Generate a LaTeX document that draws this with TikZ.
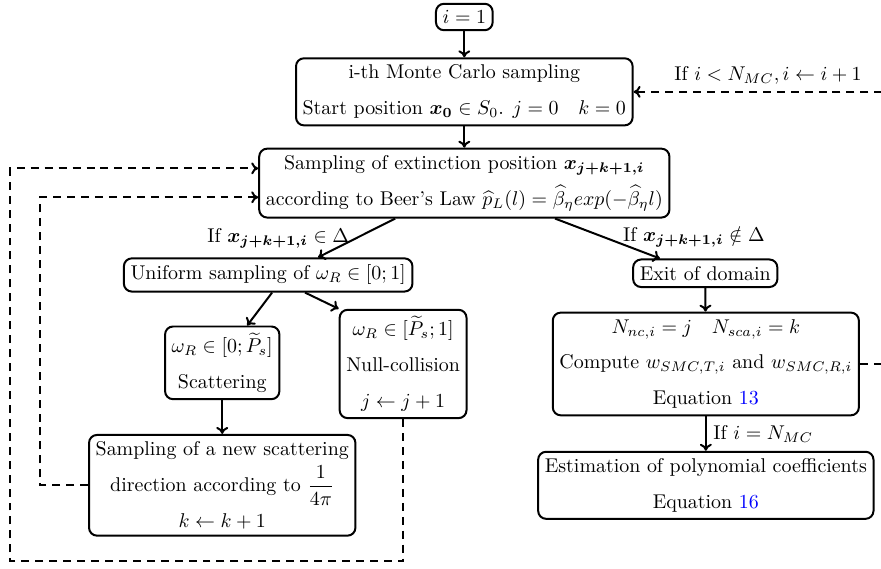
\documentclass[tikz,border=0pt]{standalone}
\usepackage{amsmath,amssymb}
\usepackage{tikz}
\usetikzlibrary{arrows.meta,positioning,calc}
\definecolor{linkblue}{HTML}{0000FF}

\begin{document}
\begin{tikzpicture}[box/.style={draw,line width=1pt,rounded corners=4pt,align=center,font=\linespread{1.5}\selectfont},
    arr/.style={-{To[length=3.5pt,width=6pt]},line width=1pt},
    back/.style={-{To[length=3.5pt,width=6pt]},line width=1pt,dash pattern=on 4pt off 3pt}]
    \useasboundingbox (0,0) rectangle (15.54,-10.02);
    \node[box] (start) at (8.19,-0.30){$i=1$};
    \node[box] (mc) at (8.19,-1.62){i-th Monte Carlo sampling\\Start position $\boldsymbol{x_0}\in S_0$. $j=0\quad k=0$};
    \node[box] (ext) at (8.19,-3.23){Sampling of extinction position $\boldsymbol{x_{j+k+1,i}}$\\according to Beer's Law $\widehat{p}_L(l)=\widehat{\beta}_\eta exp(-\widehat{\beta}_\eta l)$};
    \node[box] (unif) at (4.73,-4.85){Uniform sampling of $\omega_R\in[0;1]$};
    \node[box] (exit) at (12.44,-4.82){Exit of domain};
    \node[box] (scat) at (3.92,-6.40){$\omega_R\in[0;\widetilde{P}_s]$\\Scattering};
    \node[box] (null) at (7.11,-6.42){$\omega_R\in[\widetilde{P}_s;1]$\\Null-collision\\$j\leftarrow j+1$};
    \node[box] (dir) at (3.92,-8.56){Sampling of a new scattering\\direction according to $\dfrac{1}{4\pi}$\\$k\leftarrow k+1$};
    \node[box] (comp) at (12.45,-6.42){$N_{nc,i}=j\quad N_{sca,i}=k$\\Compute $w_{SMC,T,i}$ and $w_{SMC,R,i}$\\Equation \textcolor{linkblue}{13}};
    \node[box] (est) at (12.45,-8.56){Estimation of polynomial coefficients\\Equation \textcolor{linkblue}{16}};
    \coordinate (outer) at (0.18,-9.90);
    \coordinate (inner) at (0.71,-8.56);

    \draw[arr] (start) -- (mc);
    \draw[arr] (mc) -- (ext);
    \draw[arr] ([xshift=-1.22cm]ext.south) -- node[left]{If $\boldsymbol{x_{j+k+1,i}}\in\Delta$} ([xshift=0.88cm]unif.north);
    \draw[arr] ([xshift=1.6cm]ext.south) -- node[right,xshift=4pt,yshift=1pt]{If $\boldsymbol{x_{j+k+1,i}}\notin\Delta$} ([xshift=-0.8cm]exit.north);
    \draw[arr] ([xshift=0.07cm]unif.south) -- ([xshift=0.44cm]scat.north);
    \draw[arr] ([xshift=0.65cm]unif.south) -- (null.north west);
    \draw[arr] (scat) -- (dir);
    \draw[arr] (exit) -- (comp);
    \draw[arr] (comp) -- node[right]{If $i=N_{MC}$} (est);
    \draw[back] (comp.east) -- ++(0.75,0) |- (mc.east) node[pos=0.75,above]{If $i<N_{MC}, i\leftarrow i+1$};
    \draw[back] (null.south) |- (outer) |- ([yshift=0.26cm]ext.west);
    \draw[back] (dir.west) -- (inner) |- ([yshift=-0.25cm]ext.west);
  \end{tikzpicture}
\end{document}
